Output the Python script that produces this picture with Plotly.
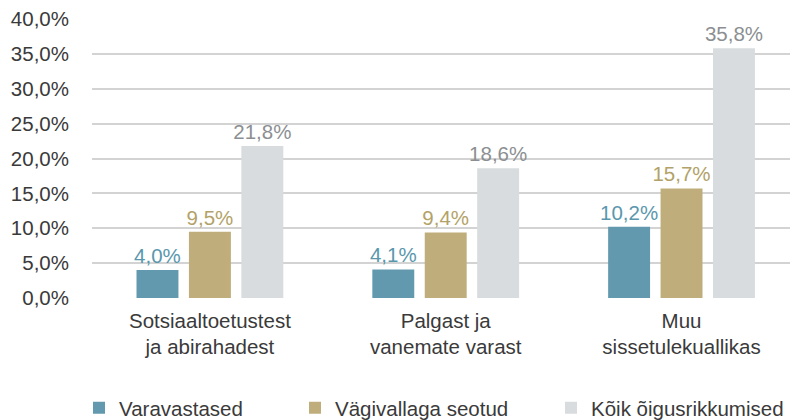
import plotly.graph_objects as go

categories = ["Sotsiaaltoetustest<br>ja abirahadest", "Palgast ja<br>vanemate varast", "Muu<br>sissetulekuallikas"]
series_names = ["Varavastased", "Vägivallaga seotud", "Kõik õigusrikkumised"]
varavastased = [4.0, 4.1, 10.2]
vagivallaga = [9.5, 9.4, 15.7]
koik = [21.8, 18.6, 35.8]
y_ticks = [0, 5, 10, 15, 20, 25, 30, 35, 40]
y_tick_labels = ["0,0%", "5,0%", "10,0%", "15,0%", "20,0%", "25,0%", "30,0%", "35,0%", "40,0%"]

FONT = "Liberation Sans"
bar_colors = ["#6399ae", "#bfae7b", "#d9dcde"]
label_colors = ["#5a97ad", "#b3a268", "#8c8f92"]
legend_ids = ["legend", "legend2", "legend3"]
legend_x = [-0.0186, 0.2908, 0.6576]

fig = go.Figure()
for name, vals, bc, lc, lg in zip(series_names, [varavastased, vagivallaga, koik],
                                  bar_colors, label_colors, legend_ids):
    fig.add_trace(go.Bar(
        name=name,
        x=categories,
        y=vals,
        marker=dict(color=bc, line=dict(width=0)),
        texttemplate="%{y:.1f}%",
        textposition="outside",
        constraintext="none",
        textfont=dict(color=lc, size=20.5, family=FONT),
        cliponaxis=False,
        hoverinfo="skip",
        legend=lg,
    ))

legend_common = dict(
    orientation="h",
    yanchor="middle",
    y=-0.394,
    xanchor="left",
    bgcolor="rgba(0,0,0,0)",
    font=dict(size=20.5, color="#3a3a3a", family=FONT),
    itemclick=False,
)

fig.update_layout(
    width=791,
    height=420,
    margin=dict(l=92, r=1, t=19, b=122, autoexpand=False),
    paper_bgcolor="white",
    plot_bgcolor="white",
    barmode="group",
    bargap=0.333,
    bargroupgap=0.2,
    separators=",.",
    font=dict(family=FONT, size=20.5, color="#3a3a3a"),
    showlegend=True,
    legend=dict(x=legend_x[0], **legend_common),
    legend2=dict(x=legend_x[1], **legend_common),
    legend3=dict(x=legend_x[2], **legend_common),
    xaxis=dict(
        range=[-0.5, 2.46],
        showgrid=False,
        showline=False,
        ticks="",
        tickfont=dict(size=20.5, color="#3a3a3a", family=FONT),
        ticklabelstandoff=8,
    ),
    yaxis=dict(
        range=[0, 40],
        tickvals=y_ticks,
        ticktext=y_tick_labels,
        showgrid=True,
        gridcolor="#d3d3d3",
        gridwidth=1.5,
        zeroline=False,
        showline=False,
        ticks="",
        ticklabelstandoff=22,
        tickfont=dict(size=20.5, color="#3a3a3a", family=FONT),
    ),
)

fig.write_html("out.html")
